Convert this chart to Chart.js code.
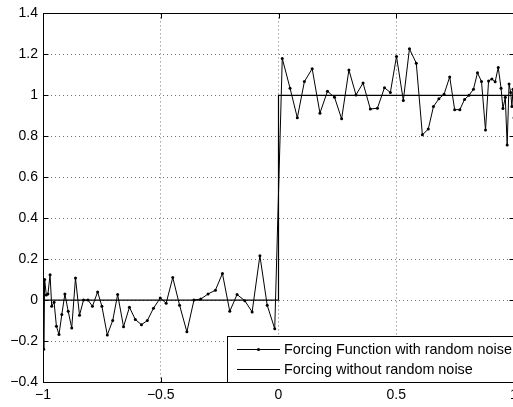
<!DOCTYPE html>
<html><head><meta charset="utf-8">
<script src="https://cdn.jsdelivr.net/npm/chart.js@4/dist/chart.umd.min.js"></script>
<style>
html,body{margin:0;padding:0;overflow:hidden;background:#fff;width:513px;height:407px}
#wrap{position:relative;width:540px;height:407px}
canvas{display:block}
</style></head>
<body><div id="wrap"><canvas id="c" width="540" height="407"></canvas></div>
<script>
const seriesNames = ['Forcing Function with random noise', 'Forcing without random noise'];
const noiseX = [
 -1.000,-0.997,-0.993,-0.986,-0.979,-0.970,-0.963,-0.953,-0.943,-0.932,
 -0.920,-0.907,-0.893,-0.878,-0.862,-0.845,-0.828,-0.809,-0.790,-0.768,
 -0.750,-0.727,-0.704,-0.683,-0.658,-0.633,-0.608,-0.582,-0.557,-0.531,
 -0.502,-0.477,-0.449,-0.420,-0.389,-0.359,-0.330,-0.299,-0.268,-0.238,
 -0.207,-0.176,-0.143,-0.112,-0.079,-0.048,-0.016,
 0.016,0.049,0.080,0.110,0.143,0.176,0.208,0.238,0.268,0.299,
 0.329,0.359,0.390,0.420,0.450,0.475,0.501,0.530,0.556,0.585,
 0.611,0.636,0.658,0.681,0.703,0.727,0.748,0.770,0.790,0.809,
 0.828,0.845,0.862,0.879,0.892,0.906,0.920,0.933,0.945,0.953,
 0.963,0.971,0.979,0.986,0.991,0.996,1.000
];
const noiseY = [
 0.07,-0.24,0.10,0.025,0.03,0.124,-0.03,-0.01,-0.128,-0.168,
 -0.07,0.03,-0.055,-0.136,0.108,-0.074,0.0,0.0,-0.03,0.04,
 -0.03,-0.17,-0.10,0.027,-0.13,-0.035,-0.095,-0.12,-0.10,-0.04,
 0.01,-0.015,0.11,-0.025,-0.155,0.0,0.005,0.03,0.048,0.13,
 -0.055,0.027,-0.003,-0.058,0.217,-0.025,-0.14,
 1.18,1.035,0.89,1.067,1.13,0.913,1.02,0.99,0.885,1.124,
 1.002,1.06,0.933,0.937,1.037,1.014,1.19,0.975,1.227,1.157,
 0.807,0.835,0.945,0.983,1.005,1.09,0.93,0.93,0.98,1.0,
 1.03,1.11,1.067,0.83,1.07,1.08,1.066,1.136,1.035,0.935,
 0.99,0.757,1.055,1.014,0.945,1.03,0.89
];
const stepX = [-1, 0, 0, 1];
const stepY = [0, 0, 1, 1];
const xTicks = [-1, -0.5, 0, 0.5, 1];
const xTickLabels = ['\u22121', '\u22120.5', '0', '0.5', '1'];
const yTicks = [-0.4, -0.2, 0, 0.2, 0.4, 0.6, 0.8, 1, 1.2, 1.4];
const yTickLabels = ['\u22120.4', '\u22120.2', '0', '0.2', '0.4', '0.6', '0.8', '1', '1.2', '1.4'];

const FAMILY = '"Liberation Sans", Arial, Helvetica, sans-serif';
const FONT = {family: FAMILY, size: 14};
Chart.defaults.font = FONT;
Chart.defaults.color = '#000';

const boxPlugin = {
  id: 'box',
  afterDatasetsDraw(chart) {
    const {ctx, chartArea: a, scales: {x, y}} = chart;
    ctx.save();
    ctx.strokeStyle = '#000';
    ctx.lineWidth = 1;
    const L = Math.round(a.left) + 0.5, R = Math.round(a.right) + 0.5;
    const T = Math.round(a.top) + 0.5, B = Math.round(a.bottom) + 0.5;
    ctx.beginPath();
    ctx.rect(L, T, R - L, B - T);
    const tl = 5;
    xTicks.forEach(v => {
      const px = Math.round(x.getPixelForValue(v)) + 0.5;
      ctx.moveTo(px, B); ctx.lineTo(px, B - tl);
      ctx.moveTo(px, T); ctx.lineTo(px, T + tl);
    });
    yTicks.forEach(v => {
      const py = Math.round(y.getPixelForValue(v)) + 0.5;
      ctx.moveTo(L, py); ctx.lineTo(L + tl, py);
      ctx.moveTo(R, py); ctx.lineTo(R - tl, py);
    });
    ctx.stroke();
    ctx.restore();
  }
};

const legendPlugin = {
  id: 'mlegend',
  afterDraw(chart) {
    const {ctx, chartArea: a} = chart;
    const B = Math.round(a.bottom) + 0.5;
    const left = 227.5, top = 336.5;
    ctx.save();
    ctx.fillStyle = '#fff';
    ctx.fillRect(left, top, 330, B - top);
    ctx.strokeStyle = '#000';
    ctx.lineWidth = 1;
    ctx.strokeRect(left, top, 330, B - top);
    const rows = [349.5, 369.5];
    ctx.font = '14.4px ' + FAMILY;
    ctx.textBaseline = 'middle';
    ctx.textAlign = 'left';
    ctx.fillStyle = '#000';
    rows.forEach((ry, i) => {
      ctx.beginPath();
      ctx.moveTo(237, ry); ctx.lineTo(280, ry);
      ctx.stroke();
      if (i === 0) {
        ctx.beginPath();
        ctx.arc(258.5, ry, 1.6, 0, Math.PI * 2);
        ctx.fill();
      }
      ctx.fillText(seriesNames[i], 284, ry + 0.5);
    });
    ctx.restore();
  }
};

const gridCommon = {color: 'rgba(0,0,0,0.55)', lineWidth: 1, drawTicks: false};

new Chart(document.getElementById('c'), {
  type: 'scatter',
  data: {
    datasets: [
      {
        label: seriesNames[0],
        data: noiseX.map((v, i) => ({x: v, y: noiseY[i]})),
        showLine: true, borderColor: '#000', borderWidth: 1,
        pointRadius: 1.5, pointBackgroundColor: '#000', pointBorderWidth: 0,
        pointHoverRadius: 0, tension: 0
      },
      {
        label: seriesNames[1],
        data: stepX.map((v, i) => ({x: v, y: stepY[i]})),
        showLine: true, borderColor: '#000', borderWidth: 1.2,
        pointRadius: 0, pointHoverRadius: 0, tension: 0
      }
    ]
  },
  options: {
    responsive: false, animation: false, events: [],
    layout: {padding: {left: 0, top: 13, right: 26, bottom: 0}},
    plugins: {legend: {display: false}, tooltip: {enabled: false}},
    scales: {
      x: {
        type: 'linear', min: -1, max: 1,
        afterBuildTicks: s => { s.ticks = xTicks.map(v => ({value: v})); },
        afterFit: s => { s.height = 25; },
        ticks: {callback: (v, i) => xTickLabels[i], padding: 5, maxRotation: 0, autoSkip: false, font: FONT, color: '#000'},
        grid: gridCommon,
        border: {display: false, dash: [1, 3]}
      },
      y: {
        type: 'linear', min: -0.4, max: 1.4,
        afterBuildTicks: s => { s.ticks = yTicks.map(v => ({value: v})); },
        afterFit: s => { s.width = 43; },
        ticks: {callback: (v, i) => yTickLabels[i], padding: 5, autoSkip: false, font: FONT, color: '#000'},
        grid: gridCommon,
        border: {display: false, dash: [1, 3]}
      }
    }
  },
  plugins: [boxPlugin, legendPlugin]
});
</script>
</body></html>
